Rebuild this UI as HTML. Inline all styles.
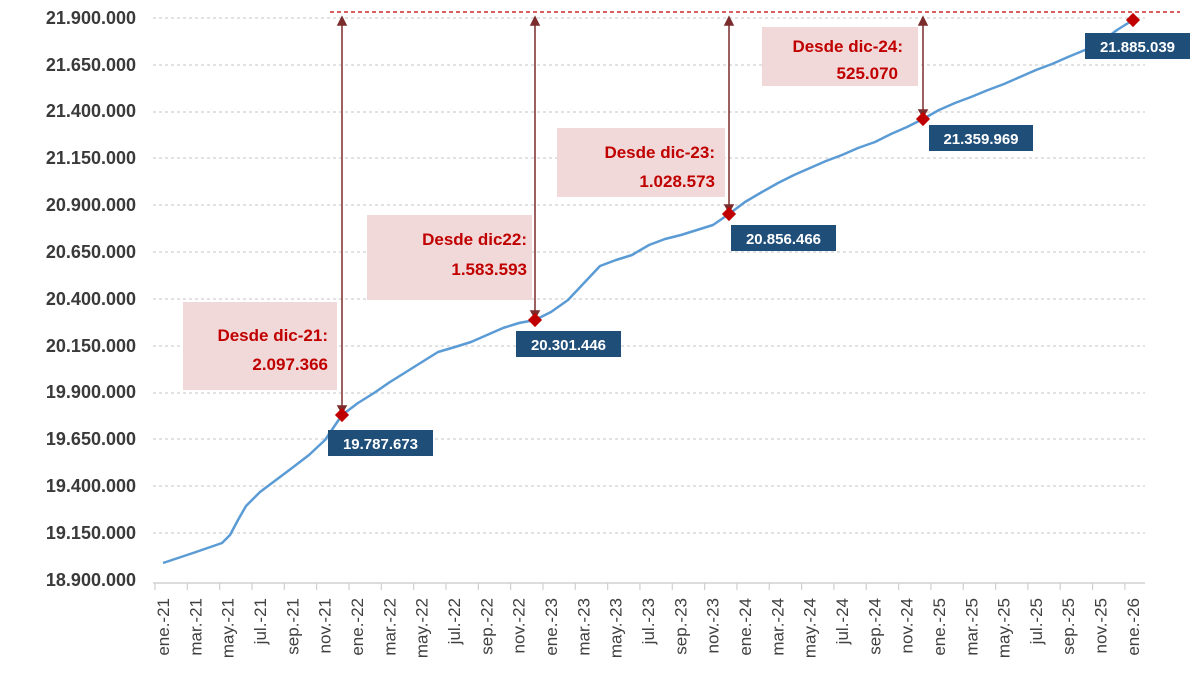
<!DOCTYPE html>
<html><head><meta charset="utf-8"><style>
body{margin:0;background:#fff;}
svg{display:block;font-family:"Liberation Sans",Arial,sans-serif;}
</style></head><body>
<svg width="1200" height="683" viewBox="0 0 1200 683">
<g font-size="18" font-weight="bold" fill="#3a3a3a" text-anchor="end">
<text x="136" y="24">21.900.000</text>
<text x="136" y="71">21.650.000</text>
<text x="136" y="117">21.400.000</text>
<text x="136" y="164">21.150.000</text>
<text x="136" y="211">20.900.000</text>
<text x="136" y="258">20.650.000</text>
<text x="136" y="305">20.400.000</text>
<text x="136" y="352">20.150.000</text>
<text x="136" y="398">19.900.000</text>
<text x="136" y="445">19.650.000</text>
<text x="136" y="492">19.400.000</text>
<text x="136" y="539">19.150.000</text>
<text x="136" y="586">18.900.000</text>
</g>
<g stroke="#d0d0d0" stroke-width="1.2" stroke-dasharray="3,3">
<line x1="153" x2="1145" y1="18" y2="18"/><line x1="153" x2="1145" y1="65" y2="65"/>
<line x1="153" x2="1145" y1="112" y2="112"/><line x1="153" x2="1145" y1="158" y2="158"/>
<line x1="153" x2="1145" y1="205" y2="205"/><line x1="153" x2="1145" y1="252" y2="252"/>
<line x1="153" x2="1145" y1="299" y2="299"/><line x1="153" x2="1145" y1="346" y2="346"/>
<line x1="153" x2="1145" y1="393" y2="393"/><line x1="153" x2="1145" y1="439" y2="439"/>
<line x1="153" x2="1145" y1="486" y2="486"/><line x1="153" x2="1145" y1="533" y2="533"/>
</g>
<line x1="153" x2="1145" y1="583" y2="583" stroke="#d0d0d0" stroke-width="1.5"/>
<g id="ticks" stroke="#d0d0d0" stroke-width="1.2"></g>
<g id="xl" font-size="17" fill="#404040"></g>
<line x1="330" x2="1180" y1="12" y2="12" stroke="#c00000" stroke-width="1.3" stroke-dasharray="4,3"/>
<polyline fill="none" stroke="#5b9bd5" stroke-width="2.5" stroke-linejoin="round" points="163,563 196,552 222,543 230,535 238,520 246,506 260,492 276,480 292,468 309,455 325,440 342,415 358,403 374,393 390,382 406,372 422,362 438,352 455,347 471,342 487,335 503,328 519,323 535,320 551,312 568,300 584,283 600,266 616,260 632,255 649,245 665,239 681,235 697,230 713,225 729,214 745,202 762,192 778,183 794,175 810,168 826,161 842,155 858,148 875,142 891,134 907,127 923,119 939,110 955,103 971,97 988,90 1004,84 1020,77 1036,70 1052,64 1068,57 1085,50 1101,42 1117,30 1133,20"/>
<g stroke="#7b2c2c" stroke-width="1.5" fill="#7b2c2c">
<line x1="342" x2="342" y1="22" y2="410"/><polygon points="338,25 346,25 342,17"/><polygon points="338,406 346,406 342,413"/>
<line x1="535" x2="535" y1="22" y2="315"/><polygon points="531,25 539,25 535,17"/><polygon points="531,311 539,311 535,318"/>
<line x1="729" x2="729" y1="22" y2="209"/><polygon points="725,25 733,25 729,17"/><polygon points="725,205 733,205 729,212"/>
<line x1="923" x2="923" y1="22" y2="114"/><polygon points="919,25 927,25 923,17"/><polygon points="919,110 927,110 923,117"/>
</g>
<g fill="#c00000">
<rect x="337" y="410" width="10" height="10" transform="rotate(45 342 415)"/>
<rect x="530" y="315" width="10" height="10" transform="rotate(45 535 320)"/>
<rect x="724" y="209" width="10" height="10" transform="rotate(45 729 214)"/>
<rect x="918" y="114" width="10" height="10" transform="rotate(45 923 119)"/>
<rect x="1128" y="15" width="10" height="10" transform="rotate(45 1133 20)"/>
</g>
<g fill="#f2d9d9">
<rect x="183" y="302" width="154" height="88"/>
<rect x="367" y="215" width="165" height="85"/>
<rect x="557" y="128" width="168" height="69"/>
<rect x="762" y="27" width="156" height="59"/>
</g>
<g fill="#c00000" font-size="17" font-weight="bold" text-anchor="end">
<text x="328" y="341">Desde dic-21:</text><text x="328" y="370">2.097.366</text>
<text x="527" y="245">Desde dic22:</text><text x="527" y="275">1.583.593</text>
<text x="715" y="158">Desde dic-23:</text><text x="715" y="187">1.028.573</text>
<text x="903" y="52">Desde dic-24:</text><text x="898" y="79">525.070</text>
</g>
<g fill="#1f4e79">
<rect x="328" y="430" width="105" height="26"/>
<rect x="516" y="331" width="105" height="26"/>
<rect x="731" y="225" width="105" height="26"/>
<rect x="929" y="125" width="104" height="26"/>
<rect x="1085" y="33" width="105" height="26"/>
</g>
<g fill="#fff" font-size="15" font-weight="bold" text-anchor="middle">
<text x="380.5" y="449">19.787.673</text>
<text x="568.5" y="350">20.301.446</text>
<text x="783.5" y="244">20.856.466</text>
<text x="981" y="144">21.359.969</text>
<text x="1137.5" y="52">21.885.039</text>
</g>
</svg>
<script>
var t=document.getElementById('ticks'),xl=document.getElementById('xl');
var m=['ene.','mar.','may.','jul.','sep.','nov.'];var ns='http://www.w3.org/2000/svg';
for(var i=0;i<=30;i++){var x=163+i*32.33;
var l=document.createElementNS(ns,'line');var tx=x-8;l.setAttribute('x1',tx);l.setAttribute('x2',tx);l.setAttribute('y1',583);l.setAttribute('y2',590);t.appendChild(l);
var s=document.createElementNS(ns,'text');s.setAttribute('transform','translate('+(x+6)+',598) rotate(-90)');s.setAttribute('text-anchor','end');
s.textContent=m[i%6]+'-'+(21+Math.floor(i/6));xl.appendChild(s);}
</script>
</body></html>
